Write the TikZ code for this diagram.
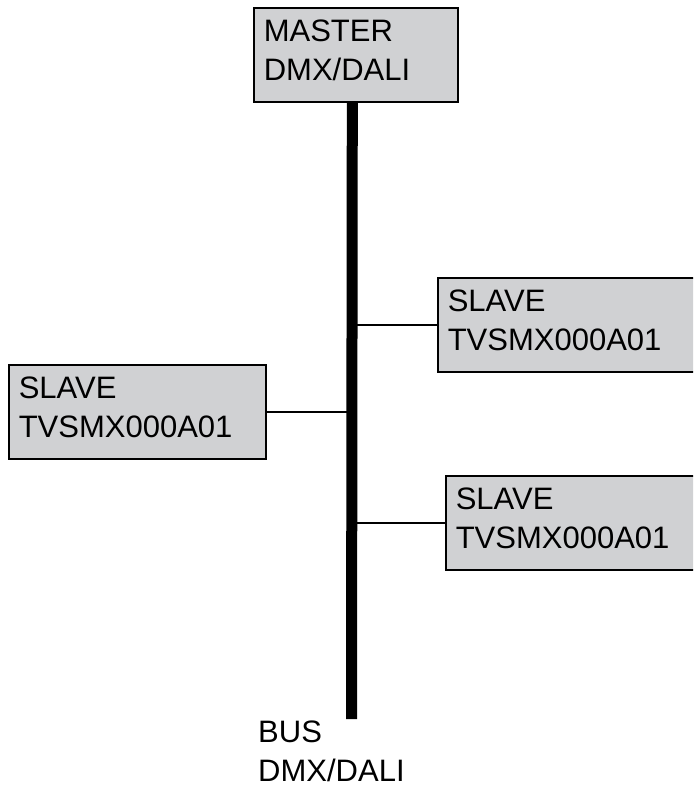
\documentclass[tikz,border=0pt]{standalone}
\usepackage{fontspec}
\setmainfont{Liberation Sans}
\usepackage{xcolor}
\usepackage{tikz}
\usetikzlibrary{positioning,calc}

\definecolor{boxgray}{RGB}{208,209,211}

\tikzset{
  unit/.style={draw=black, line width=1.6pt, fill=boxgray, anchor=north west,
    align=left, inner xsep=10pt, inner ysep=10pt, text height=24pt, text depth=50pt,
    font=\fontsize{31}{39}\selectfont},
  master/.style={unit, text width=184pt},
  slave/.style={unit, text width=237pt},
  wire/.style={line width=1.6pt},
  busline/.style={line width=11pt}
}

\begin{document}
\begin{tikzpicture}[x=1pt,y=-1pt]
\useasboundingbox (0,0) rectangle (693,786);
\clip (0,0) rectangle (693,786);

% Master unit on top
\node[master] (m) at (253,7) {MASTER\\DMX/DALI};

% Slaves along the bus (right ones run past the edge)
\node[slave, text width=250pt] (s1) at (437,277) {SLAVE\\TVSMX000A01};
\node[slave] (s2) at (8,364) {SLAVE\\TVSMX000A01};
\node[slave, text width=250pt] (s3) at (445,475) {SLAVE\\TVSMX000A01};

% Bus
\coordinate (bustop) at ($(m.south)+(-3.5,0)$);
\coordinate (busend) at (351.5,719);
\draw[wire] (s1.west) -- (s1.west -| bustop);
\draw[wire] (s2.east) -- (s2.east -| bustop);
\draw[wire] (s3.west) -- (s3.west -| bustop);
\draw[busline] (bustop) -- (busend);

\node[anchor=base west, align=left, inner sep=0pt, text width=150pt,
  font=\fontsize{31}{39}\selectfont] (buslabel) at (258,742) {BUS\\DMX/DALI};
\end{tikzpicture}
\end{document}
